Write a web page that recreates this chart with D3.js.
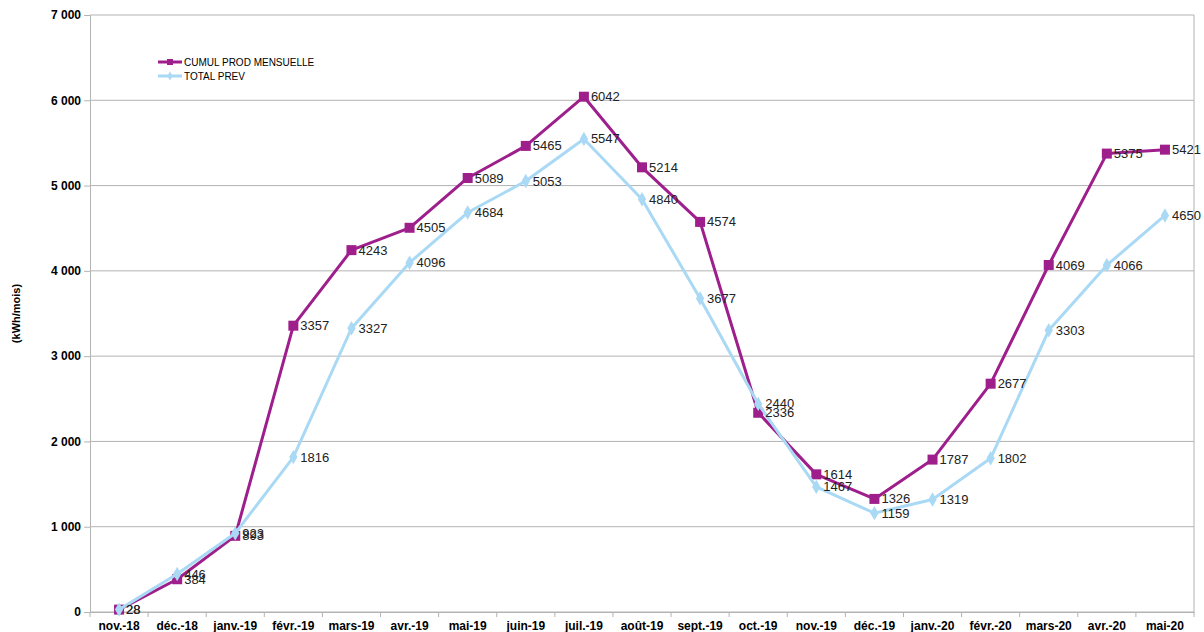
<!DOCTYPE html>
<html>
<head>
<meta charset="utf-8">
<script src="https://cdn.jsdelivr.net/npm/d3@7"></script>
<style>
  body { margin: 0; background: #fff; }
  svg { font-family: "Liberation Sans", Arial, sans-serif; }
</style>
</head>
<body>
<svg id="chart" width="1204" height="632"></svg>
<script>
var months = ['nov.-18', 'déc.-18', 'janv.-19', 'févr.-19', 'mars-19', 'avr.-19', 'mai-19', 'juin-19', 'juil.-19', 'août-19',
  'sept.-19', 'oct.-19', 'nov.-19', 'déc.-19', 'janv.-20', 'févr.-20', 'mars-20', 'avr.-20', 'mai-20']
var cumulProd = [28, 384, 893, 3357, 4243, 4505, 5089, 5465, 6042, 5214, 4574, 2336, 1614, 1326, 1787, 2677, 4069, 5375, 5421]
var totalPrev = [28, 446, 923, 1816, 3327, 4096, 4684, 5053, 5547, 4840, 3677, 2440, 1467, 1159, 1319, 1802, 3303, 4066, 4650]
var yTicks = [0, 1000, 2000, 3000, 4000, 5000, 6000, 7000]
var seriesNames = ['CUMUL PROD MENSUELLE', 'TOTAL PREV']

var svg = d3.select('#chart')
// attention: "top" est réservé par window
var plotL = 90, plotR = 1194, plotT = 15, plotB = 612

var x = d3.scaleBand().domain(months).range([plotL, plotR])
var y = d3.scaleLinear().domain([0, 7000]).range([plotB, plotT])

// grille horizontale
svg.append('g').selectAll('line').data(yTicks).enter().append('line')
  .attr('x1', plotL).attr('x2', plotR)
  .attr('y1', d => y(d)).attr('y2', d => y(d))
  .style('stroke', '#b3b3b3').style('stroke-width', 1)

// bord droit
svg.append('line').attr('x1', plotR).attr('x2', plotR).attr('y1', plotT).attr('y2', plotB)
  .style('stroke', '#b3b3b3')

var fmt = d => d3.format(',')(d).replace(/,/g, ' ')
var yAxis = d3.axisLeft(y).tickValues(yTicks).tickFormat(fmt).tickSize(6).tickPadding(3)
var yG = svg.append('g').attr('transform', 'translate(' + plotL + ',0)').call(yAxis)
yG.selectAll('path.domain').style('stroke', '#b3b3b3')
yG.selectAll('line').style('stroke', '#b3b3b3')
yG.selectAll('text').style('font-size', '12px').style('font-weight', 'bold').style('fill', '#000')

var xAxis = d3.axisBottom(x).tickSize(0).tickPadding(9)
var xG = svg.append('g').attr('transform', 'translate(0,' + plotB + ')').call(xAxis)
xG.select('path.domain').style('stroke', '#b3b3b3')
xG.selectAll('text').style('font-size', '12px').style('font-weight', 'bold').style('fill', '#000')
// petits traits entre les catégories
xG.selectAll('line.sep').data(months.concat(['end'])).enter().append('line').attr('class', 'sep')
  .attr('x1', (d, i) => plotL + i * x.step()).attr('x2', (d, i) => plotL + i * x.step())
  .attr('y1', 0).attr('y2', 5).style('stroke', '#b3b3b3')

svg.append('text').attr('transform', 'translate(20,' + ((plotT + plotB) / 2) + ') rotate(-90)')
  .attr('text-anchor', 'middle').style('font-size', '11px').style('font-weight', 'bold')
  .text('(kWh/mois)')

var cx = d => x(d) + x.bandwidth() / 2
var purple = '#9e1f8c', blue = '#a9d9f4'

function drawSeries(values, color, shape, size) {
  var line = d3.line().x((d, i) => cx(months[i])).y(d => y(d))
  svg.append('path').datum(values).attr('d', line)
    .style('fill', 'none').style('stroke', color).style('stroke-width', 3).style('stroke-linejoin', 'round')
  svg.append('g').selectAll('path').data(values).enter().append('path')
    .attr('d', d3.symbol().type(shape).size(size))
    .attr('transform', (d, i) => 'translate(' + cx(months[i]) + ',' + y(d) + ')')
    .style('fill', color)
}
drawSeries(cumulProd, purple, d3.symbolSquare, 100)
drawSeries(totalPrev, blue, d3.symbolDiamond, 60)

function drawLabels(values) {
  svg.append('g').selectAll('text').data(values).enter().append('text')
    .attr('x', (d, i) => cx(months[i]) + 7).attr('y', d => y(d))
    .attr('dy', '0.35em').style('font-size', '13px').style('fill', '#222')
    .text(d => d)
}
drawLabels(cumulProd)
drawLabels(totalPrev)

// légende
var legend = svg.append('g').attr('transform', 'translate(158,62)')
var legendColors = [purple, blue]
seriesNames.forEach(function (name, i) {
  var g = legend.append('g').attr('transform', 'translate(0,' + (i * 14) + ')')
  g.append('line').attr('x1', 0).attr('x2', 24).style('stroke', legendColors[i]).style('stroke-width', 3)
  g.append('path').attr('transform', 'translate(12,0)')
    .attr('d', d3.symbol().type(i === 0 ? d3.symbolSquare : d3.symbolDiamond).size(i === 0 ? 36 : 24))
    .style('fill', legendColors[i])
  g.append('text').attr('x', 26).attr('dy', '0.35em').style('font-size', '10px').style('fill', '#000').text(name)
})
</script>
</body>
</html>
